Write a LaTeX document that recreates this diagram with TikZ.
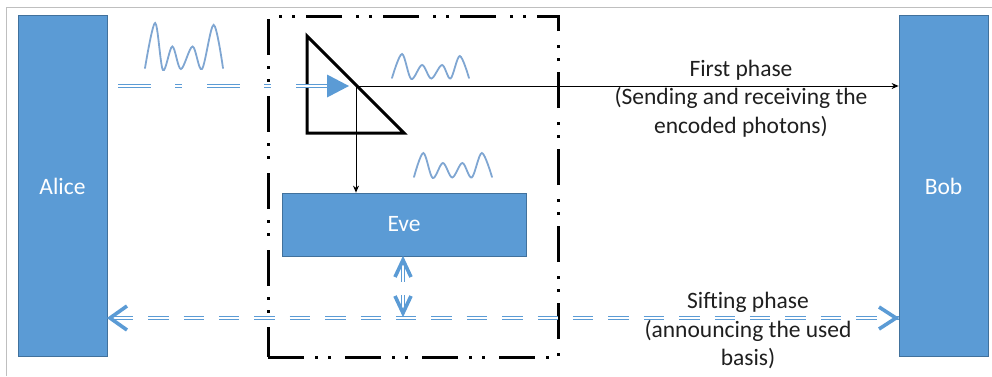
\documentclass[tikz,border=0pt]{standalone}
\usepackage{fontspec}
\setmainfont{Carlito}
\usetikzlibrary{arrows.meta,calc}
\definecolor{obl}{HTML}{5B9BD5}
\definecolor{obd}{HTML}{41719C}
\definecolor{wavec}{HTML}{7FA6D2}
\definecolor{txt}{HTML}{1F1F1F}
\begin{document}
\begin{tikzpicture}[x=1pt,y=-1pt,
  party/.style={draw=obd,line width=0.8pt,fill=obl,text=white,inner sep=0pt,
    font=\fontsize{23.5}{28.5}\selectfont},
  lbl/.style={text=txt,align=center,inner sep=0pt,font=\fontsize{23.5}{28.5}\selectfont},
  tapbox/.style={draw=black,line width=3pt,
    dash pattern=on 36pt off 11pt on 3pt off 10pt on 3pt off 14pt},
  thinarrow/.style={draw=black,line width=0.9pt,-{Stealth[length=7pt,width=6pt]}},
  dbl/.style={draw=obl,line width=1.7pt,double=white,double distance=1.3pt},
  chev/.style={draw=obl,line width=3.6pt,line join=miter,line cap=butt},
  wavestyle/.style={draw=wavec,line width=1.8pt,line cap=round}
]
\useasboundingbox (0,0) rectangle (992,376);
\draw[black!25,line width=1pt] (6.5,376) -- (6.5,7.5) -- (992,7.5);

% parties
\node[party,minimum width=89,minimum height=341] (Alice) at (62.5,186) {Alice};
\node[party,minimum width=89,minimum height=341] (Bob) at (943.5,186) {Bob};

% eavesdropper region
\node[tapbox,minimum width=290,minimum height=341,inner sep=0pt] (tap) at (413,186.5) {};
\node[party,minimum width=244,minimum height=63] (Eve) at (404,224.5) {Eve};

% beam splitter
\draw[line width=3pt,line join=miter] (307,36) -- (307,133) -- (404,133) -- cycle;
\coordinate (hit) at (356,86);

% first phase
\draw[thinarrow] (hit) -- (Bob.west |- hit);
\draw[thinarrow] (hit) -- (hit |- Eve.north);

% incoming photons from Alice
\coordinate (inS) at (118,86);
\coordinate (inE) at (327,86);
\draw[dbl,dash pattern=on 33pt off 24pt on 7pt off 25pt] (inS) -- (inE);
\fill[obl] (327,74.5) -- (349,86) -- (327,97.5) -- cycle;

% sifting phase
\coordinate (siftY) at (0,318);
\draw[dbl,dash pattern=on 20.5pt off 14.9pt,dash phase=30.1pt]
  (Alice.east |- siftY) -- (Bob.west |- siftY);
\draw[chev] (127,306) -- (110,318) -- (127,330);
\draw[chev] (879,307) -- (896,318) -- (879,329);

% Eve to public channel
\coordinate (vT) at (403,265);
\coordinate (vB) at (403,312);
\draw[dbl,dash pattern=on 17pt off 13pt] (vT) -- (vB);
\draw[chev] (395,277) -- (403,260) -- (411,277);
\draw[chev] (395,296) -- (403,313) -- (411,296);

% photon waves
\begin{scope}[shift={(145,70)},xscale=78,yscale=-47]
\draw[wavestyle] plot[smooth,tension=0.55] coordinates
 {(0,0.04) (0.13,1) (0.23,0) (0.35,0.5) (0.46,0.02) (0.61,0.5) (0.73,0.02) (0.88,0.96) (1,0.04)};
\end{scope}
\begin{scope}[shift={(392,79)},xscale=77,yscale=-25]
\draw[wavestyle] plot[smooth,tension=0.55] coordinates
 {(0,0.04) (0.13,1) (0.25,0) (0.39,0.56) (0.51,0.02) (0.65,0.56) (0.76,0.02) (0.88,0.92) (1,0.04)};
\end{scope}
\begin{scope}[shift={(414,178)},xscale=78,yscale=-25]
\draw[wavestyle] plot[smooth,tension=0.55] coordinates
 {(0,0.04) (0.12,1) (0.24,0) (0.37,0.6) (0.49,0.02) (0.62,0.6) (0.74,0.02) (0.87,1) (1,0.04)};
\end{scope}

% labels
\node[lbl] (firstlbl) at (741,98.5) {First phase\\(Sending and receiving the\\encoded photons)};
\node[lbl] (siftlbl) at (748,330.5) {Sifting phase\\(announcing the used\\basis)};
\end{tikzpicture}
\end{document}
